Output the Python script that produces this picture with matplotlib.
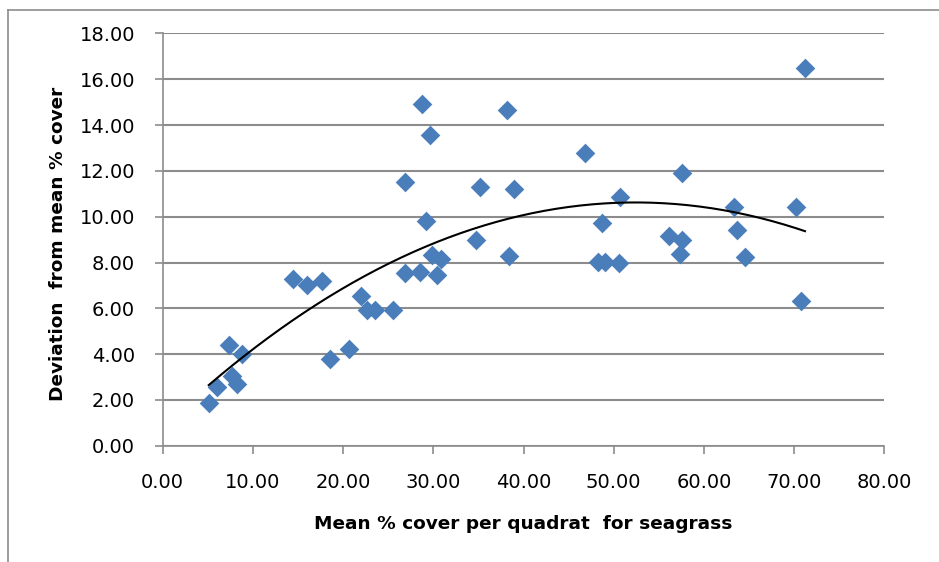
import matplotlib
matplotlib.use('Agg')
import matplotlib.pyplot as plt
from matplotlib.lines import Line2D
import numpy as np

# mean % cover per quadrat (x) and deviation from mean (y)
cover = [5.1, 6.0, 7.3, 7.7, 8.2, 8.8, 14.4, 16.0, 17.7, 18.5,
         20.7, 22.0, 22.6, 23.5, 25.5, 26.9, 26.9, 28.5, 28.7, 29.2,
         29.6, 29.9, 30.4, 30.9, 34.7, 35.2, 38.2, 38.4, 38.9, 46.8,
         48.3, 48.7, 49.0, 50.6, 50.7, 56.1, 57.4, 57.6, 57.6, 63.3,
         63.7, 64.6, 70.2, 70.8, 71.2]
deviation = [1.85, 2.55, 4.40, 3.05, 2.70, 4.00, 7.27, 7.02, 7.20, 3.80,
             4.22, 6.52, 5.93, 5.93, 5.93, 11.53, 7.55, 7.60, 14.92, 9.83,
             13.57, 8.33, 7.45, 8.14, 8.98, 11.28, 14.66, 8.30, 11.20, 12.80,
             8.02, 9.74, 8.02, 7.96, 10.85, 9.16, 8.37, 11.90, 8.98, 10.44,
             9.42, 8.23, 10.44, 6.33, 16.50]

xticks = np.arange(0, 81, 10)
yticks = np.arange(0, 19, 2)

grey = '#8c8c8c'
blue = '#4a7ebb'

fig = plt.figure(figsize=(9.39, 5.62), dpi=100)
ax = fig.add_axes([0.1733, 0.2069, 0.7685, 0.7335])

ax.scatter(cover, deviation, marker='D', s=100, color=blue, zorder=3, linewidths=0)

# 2nd order polynomial trendline
coef = np.polyfit(cover, deviation, 2)
xs = np.linspace(min(cover), max(cover), 200)
ax.plot(xs, np.polyval(coef, xs), color='black', lw=1.5, zorder=4)

ax.set_xlim(0, 80)
ax.set_ylim(0, 18)
ax.set_xticks(xticks)
ax.set_yticks(yticks)
ax.set_xticklabels([f'{v:.2f}' for v in xticks])
ax.set_yticklabels([f'{v:.2f}' for v in yticks])
ax.grid(axis='y', color=grey, lw=1.5, zorder=0)
ax.set_axisbelow(True)

for s in ['top', 'right']:
    ax.spines[s].set_visible(False)
for s in ['left', 'bottom']:
    ax.spines[s].set_color(grey)
    ax.spines[s].set_linewidth(1.2)
ax.tick_params(axis='both', colors=grey, length=6, width=1.2, labelsize=14,
               labelcolor='black')
ax.tick_params(axis='x', pad=14)
ax.tick_params(axis='y', pad=14)

ax.set_xlabel('Mean % cover per quadrat  for seagrass', fontsize=13.3,
              fontweight='bold', labelpad=16)
ax.set_ylabel('Deviation  from mean % cover', fontsize=13.3,
              fontweight='bold', labelpad=6)
ax.yaxis.set_label_coords(-0.133, 0.49)

# chart area border (top and left visible)
fig.add_artist(Line2D([8 / 939, 1], [1 - 10 / 562, 1 - 10 / 562],
                      color=grey, lw=1.2, transform=fig.transFigure))
fig.add_artist(Line2D([8 / 939, 8 / 939], [0, 1 - 10 / 562],
                      color=grey, lw=1.2, transform=fig.transFigure))

fig.savefig('out.png', dpi=100)
